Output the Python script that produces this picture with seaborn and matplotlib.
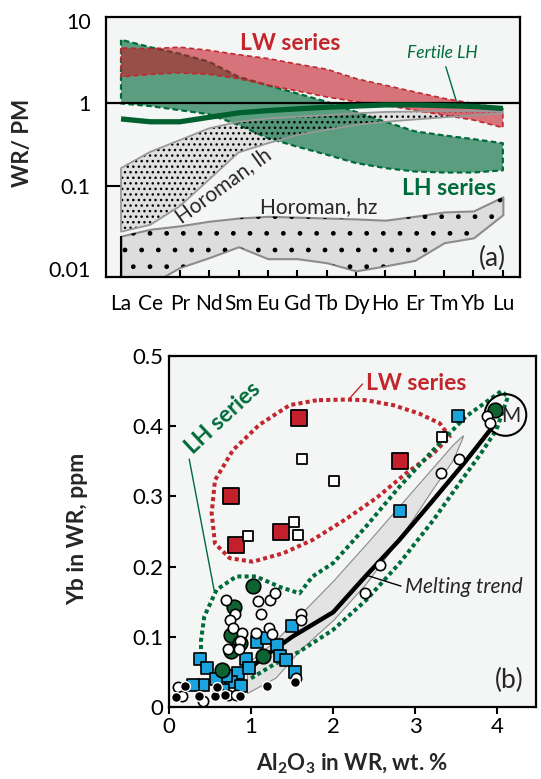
import matplotlib
matplotlib.use("agg")
import matplotlib.pyplot as plt
import numpy as np
import seaborn as sns
from matplotlib.ticker import NullLocator

# ---------------- panel (a): WR / PM REE patterns ----------------
ree = ["La", "Ce", "Pr", "Nd", "Sm", "Eu", "Gd", "Tb", "Dy", "Ho", "Er", "Tm", "Yb", "Lu"]
lw_hi = [4.7, 4.6, 4.8, 4.4, 3.9, 3.5, 3.0, 2.6, 2.0, 1.66, 1.38, 1.15, 1.0, 0.87]
lw_lo = [2.1, 2.25, 2.35, 2.25, 2.0, 1.66, 1.42, 1.2, 1.05, 0.95, 0.83, 0.72, 0.63, 0.51]
lh_hi = [5.9, 4.8, 4.0, 3.2, 2.1, 1.66, 1.32, 1.05, 0.79, 0.6, 0.46, 0.41, 0.37, 0.33]
lh_lo = [1.0, 0.93, 0.83, 0.74, 0.55, 0.38, 0.30, 0.24, 0.19, 0.165, 0.15, 0.146, 0.146, 0.155]
fertile_lh = [0.65, 0.6, 0.6, 0.68, 0.77, 0.82, 0.86, 0.9, 0.93, 0.96, 0.96, 0.94, 0.92, 0.87]
horo_lh_hi = [0.165, 0.26, 0.36, 0.5, 0.6, 0.66, 0.69, 0.72, 0.76, 0.79, 0.80, 0.81, 0.81, 0.80]
horo_lh_lo = [0.028, 0.034, 0.057, 0.12, 0.255, 0.33, 0.415, 0.48, 0.55, 0.6, 0.64, 0.68, 0.72, 0.76]
horo_hz_hi = [0.0248, 0.030, 0.033, 0.0375, 0.041, 0.043, 0.042, 0.041, 0.040, 0.0386, 0.043, 0.0486, 0.050, 0.074]
horo_hz_lo = [0.006, 0.0065, 0.0103, 0.0136, 0.0184, 0.0132, 0.0132, 0.0118, 0.0094, 0.0108, 0.0126, 0.0206, 0.0236, 0.045]

# ---------------- panel (b): Yb vs Al2O3 ----------------
lw_sq_x = [1.58, 0.76, 0.82, 1.37, 2.82]
lw_sq_y = [0.412, 0.301, 0.231, 0.250, 0.351]
open_sq_x = [1.62, 2.01, 1.52, 1.57, 0.96, 3.33]
open_sq_y = [0.353, 0.322, 0.264, 0.245, 0.244, 0.384]
blue_sq_x = [3.52, 2.81, 1.50, 0.38, 0.46, 0.84, 0.94, 1.07, 1.19, 1.32, 1.35, 1.43, 1.54,
             0.75, 0.70, 0.41, 0.29, 0.66, 0.88, 0.98, 0.57]
blue_sq_y = [0.415, 0.279, 0.116, 0.069, 0.056, 0.048, 0.068, 0.092, 0.099, 0.088, 0.072, 0.067, 0.050,
             0.036, 0.044, 0.031, 0.031, 0.024, 0.030, 0.055, 0.040]
green_ci_x = [3.97, 1.02, 0.79, 0.76, 0.87, 0.76, 1.14, 0.64]
green_ci_y = [0.423, 0.173, 0.143, 0.102, 0.091, 0.080, 0.072, 0.053]
open_ci_x = [3.87, 3.91, 3.54, 3.31, 2.57, 2.39, 1.61, 1.61, 0.69, 1.08, 1.23, 1.29, 1.125, 0.80,
             0.74, 0.78, 0.89, 1.06, 1.22, 1.25, 0.86, 0.72, 0.85, 0.11, 0.16, 0.41, 0.60, 0.72, 0.82, 1.55]
open_ci_y = [0.415, 0.405, 0.354, 0.334, 0.202, 0.163, 0.133, 0.124, 0.152, 0.151, 0.152, 0.163, 0.133, 0.133,
             0.124, 0.112, 0.105, 0.105, 0.112, 0.104, 0.094, 0.082, 0.082, 0.029, 0.015, 0.009, 0.022, 0.017, 0.017, 0.041]
black_ci_x = [0.09, 0.19, 0.37, 0.56, 0.58, 0.68, 0.86, 1.19, 1.54]
black_ci_y = [0.014, 0.030, 0.015, 0.015, 0.029, 0.017, 0.015, 0.030, 0.036]
pm_x = [4.10]
pm_y = [0.416]

lw_loop_x = [1.80, 1.47, 1.10, 0.78, 0.56, 0.52, 0.56, 0.74, 1.02, 1.39, 1.75, 2.16, 2.53, 2.89,
             3.22, 3.42, 3.30, 3.05, 2.73, 2.40, 2.16, 1.80]
lw_loop_y = [0.437, 0.430, 0.402, 0.366, 0.323, 0.276, 0.233, 0.212, 0.207, 0.219, 0.238, 0.268, 0.298, 0.333,
             0.361, 0.385, 0.404, 0.418, 0.430, 0.437, 0.438, 0.437]
lh_loop_x = [1.00, 1.27, 1.59, 2.00, 2.40, 2.81, 3.22, 3.54, 3.80, 3.99, 4.13, 4.05, 3.62, 3.22, 2.81,
             2.40, 2.00, 1.75, 1.59, 1.35, 1.06, 0.82, 0.58, 0.43, 0.39, 0.39]
lh_loop_y = [0.041, 0.060, 0.079, 0.110, 0.152, 0.205, 0.266, 0.319, 0.361, 0.395, 0.442, 0.450, 0.414, 0.366, 0.314,
             0.257, 0.205, 0.186, 0.162, 0.171, 0.186, 0.186, 0.167, 0.129, 0.095, 0.075]
melt_x = [0.95, 1.20, 1.50, 2.00, 2.40, 2.80, 3.20, 3.60, 3.95]
melt_y = [0.052, 0.075, 0.100, 0.135, 0.187, 0.237, 0.292, 0.348, 0.400]
band_x = [0.95, 1.30, 1.60, 2.00, 2.40, 2.81, 3.22, 3.46, 3.58]
band_hi = [0.062, 0.095, 0.132, 0.180, 0.232, 0.287, 0.342, 0.374, 0.387]
band_lo = [0.020, 0.042, 0.082, 0.124, 0.176, 0.240, 0.312, 0.352, 0.385]

red = "#c4202b"
red_txt = "#c1272d"
green = "#006b3a"
blue = "#1aa3dc"
bg = "#f4f6f5"

sns.set_theme(style="ticks")
plt.rcParams["font.family"] = ["Lato", "DejaVu Sans"]
plt.rcParams["mathtext.fontset"] = "custom"
plt.rcParams["mathtext.rm"] = "Lato"
plt.rcParams["mathtext.bf"] = "Lato:bold"
plt.rcParams["mathtext.it"] = "Lato:italic"
plt.rcParams["hatch.linewidth"] = 1.0

fig = plt.figure(figsize=(5.41, 7.79), dpi=100)

# ======== (a) ========
ax = fig.add_axes([0.196, 0.644, 0.765, 0.334])
ax.set_facecolor(bg)
xpos = np.arange(len(ree))
ax.set_yscale("log")
ymin_a = 0.00785
ax.set_ylim(ymin_a, 11.1)
ax.set_xlim(-0.51, 13.58)

ax.fill_between(xpos, horo_lh_lo, horo_lh_hi, facecolor="#e0e0e0", edgecolor="none", zorder=1)
ax.fill_between(xpos, horo_hz_lo, horo_hz_hi, facecolor="#dddddd", edgecolor="#8c8c8c", lw=1.5, zorder=1)
ax.fill_between(xpos, horo_hz_lo, horo_hz_hi, facecolor="none", edgecolor="black", lw=0, hatch=".", zorder=1.5)
ax.vlines(xpos[0], ymin_a, horo_hz_hi[0], color="black", lw=1.5, zorder=1.6)
ax.fill_between(xpos, lh_lo, lh_hi, facecolor=(0.0, 0.42, 0.227, 0.63), edgecolor=green,
                lw=1.6, linestyle=(0, (2.5, 1.5)), zorder=2)
ax.fill_between(xpos, lw_lo, lw_hi, facecolor=(0.77, 0.09, 0.14, 0.59), edgecolor=red_txt,
                lw=1.2, linestyle=(0, (3, 2)), zorder=3)
ax.fill_between(xpos, horo_lh_lo, horo_lh_hi, facecolor="none", edgecolor="black", lw=0, hatch="...", zorder=4)
ax.fill_between(xpos, horo_lh_lo, horo_lh_hi, facecolor="none", edgecolor="#999999", lw=1.3, zorder=4)
ax.axhline(1, color="black", lw=1.6, zorder=5)
sns.lineplot(x=xpos, y=fertile_lh, ax=ax, color="#00602f", lw=3.8, zorder=6, solid_capstyle="butt")

ax.set_xticks(xpos)
ax.set_xticklabels(ree)
ax.set_yticks([0.01, 0.1, 1, 10])
ax.set_yticklabels(["0.01", "0.1", "1", "10"])
ax.yaxis.set_minor_locator(NullLocator())
ax.tick_params(axis="x", direction="in", length=5, width=1.5, pad=12, labelsize=15, colors="black")
ax.tick_params(axis="y", direction="in", length=0, width=1.5, pad=11, labelsize=15.5, colors="black")
ax.yaxis.get_major_ticks()[1].tick1line.set_markersize(14)
for s in ax.spines.values():
    s.set_linewidth(1.6)
    s.set_color("black")

ax.text(5.75, 5.3, "LW series", color=red_txt, fontsize=16.5, fontweight="bold", ha="center", va="center", zorder=8)
ax.text(10.93, 4.07, "Fertile LH", color=green, fontsize=12.5, style="italic", ha="center", va="center", zorder=8)
ax.annotate("", xy=(11.44, 1.0), xytext=(11.03, 3.0), arrowprops=dict(arrowstyle="-", color=green, lw=1.0), zorder=8)
ax.text(11.16, 0.094, "LH series", color=green, fontsize=16.5, fontweight="bold", ha="center", va="center", zorder=8)
ax.text(3.5, 0.102, "Horoman, lh", fontsize=15, rotation=36, rotation_mode="anchor", ha="center", va="center", zorder=8)
ax.text(6.74, 0.0553, "Horoman, hz", fontsize=15, ha="center", va="center", zorder=8)
ax.text(12.66, 0.0133, "(a)", fontsize=19, ha="center", va="center", zorder=8)
ax.text(-0.203, 0.515, "WR/ PM", transform=ax.transAxes, rotation=90, fontsize=16, fontweight="bold",
        ha="center", va="center")

# ======== (b) ========
bx = fig.add_axes([0.3124, 0.0924, 0.678, 0.4506])
bx.set_facecolor(bg)
bx.set_xlim(0, 4.47)
bx.set_ylim(0, 0.5)

bx.fill_between(band_x, band_lo, band_hi, facecolor="#e3e3e3", edgecolor="#8a8a8a", lw=0.8, zorder=1)
sns.lineplot(x=lw_loop_x, y=lw_loop_y, sort=False, estimator=None, ax=bx, color=red_txt, lw=2.9,
             linestyle=(0, (1, 0.8)), dash_capstyle="butt", zorder=2)
sns.lineplot(x=lh_loop_x, y=lh_loop_y, sort=False, estimator=None, ax=bx, color=green, lw=2.9,
             linestyle=(0, (1, 0.8)), dash_capstyle="butt", zorder=2)
sns.lineplot(x=melt_x, y=melt_y, sort=False, estimator=None, ax=bx, color="black", lw=3.2, zorder=3)
sns.scatterplot(x=pm_x, y=pm_y, ax=bx, s=900, marker="o", facecolor="none", edgecolor="black", linewidth=1.5, zorder=3)
bx.text(4.17, 0.414, "M", fontsize=15, ha="center", va="center", zorder=9)

sns.scatterplot(x=lw_sq_x, y=lw_sq_y, ax=bx, marker="s", s=120, color=red, edgecolor="black", linewidth=1.3, zorder=4)
sns.scatterplot(x=open_sq_x, y=open_sq_y, ax=bx, marker="s", s=55, color="white", edgecolor="black", linewidth=1.3, zorder=4)
sns.scatterplot(x=blue_sq_x, y=blue_sq_y, ax=bx, marker="s", s=70, color=blue, edgecolor="black", linewidth=1.2, zorder=5)
sns.scatterplot(x=green_ci_x, y=green_ci_y, ax=bx, marker="o", s=110, color="#0f6331", edgecolor="black", linewidth=1.2, zorder=6)
sns.scatterplot(x=open_ci_x, y=open_ci_y, ax=bx, marker="o", s=55, color="white", edgecolor="black", linewidth=1.2, zorder=7)
sns.scatterplot(x=black_ci_x, y=black_ci_y, ax=bx, marker="o", s=50, color="black", edgecolor="white", linewidth=1.0, zorder=8)

bx.set_xticks([0, 1, 2, 3, 4])
bx.set_xticklabels(["0", "1", "2", "3", "4"])
bx.set_yticks([0, 0.1, 0.2, 0.3, 0.4, 0.5])
bx.set_yticklabels(["0", "0.1", "0.2", "0.3", "0.4", "0.5"])
bx.tick_params(axis="x", direction="out", length=5, width=1.5, pad=2, labelsize=16, colors="black")
bx.tick_params(axis="y", direction="in", length=5, width=1.5, pad=4, labelsize=16, colors="black")
for s in bx.spines.values():
    s.set_linewidth(1.6)
    s.set_color("black")

bx.text(3.01, 0.461, "LW series", color=red_txt, fontsize=16.5, fontweight="bold", ha="center", va="center", zorder=9)
bx.annotate("", xy=(2.18, 0.437), xytext=(2.38, 0.463), arrowprops=dict(arrowstyle="-", color=red_txt, lw=1.0))
bx.text(0.66, 0.411, "LH series", color=green, fontsize=16.5, fontweight="bold", rotation=43,
        rotation_mode="anchor", ha="center", va="center", zorder=9)
bx.annotate("", xy=(0.557, 0.162), xytext=(0.24, 0.357), arrowprops=dict(arrowstyle="-", color=green, lw=1.0))
bx.text(2.88, 0.171, "Melting trend", fontsize=15, style="italic", ha="left", va="center", zorder=9)
bx.annotate("", xy=(2.40, 0.188), xytext=(2.86, 0.171), arrowprops=dict(arrowstyle="-", color="black", lw=1.0))
bx.text(4.15, 0.038, "(b)", fontsize=19, ha="center", va="center", zorder=9)
bx.text(-0.248, 0.507, "Yb in WR, ppm", transform=bx.transAxes, rotation=90, fontsize=16.5, fontweight="bold",
        ha="center", va="center")
bx.text(0.499, -0.16, r"Al$_\mathbf{2}$O$_\mathbf{3}$ in WR, wt. %", transform=bx.transAxes, fontsize=16,
        fontweight="bold", ha="center", va="center")

fig.savefig("out.png", dpi=100)
